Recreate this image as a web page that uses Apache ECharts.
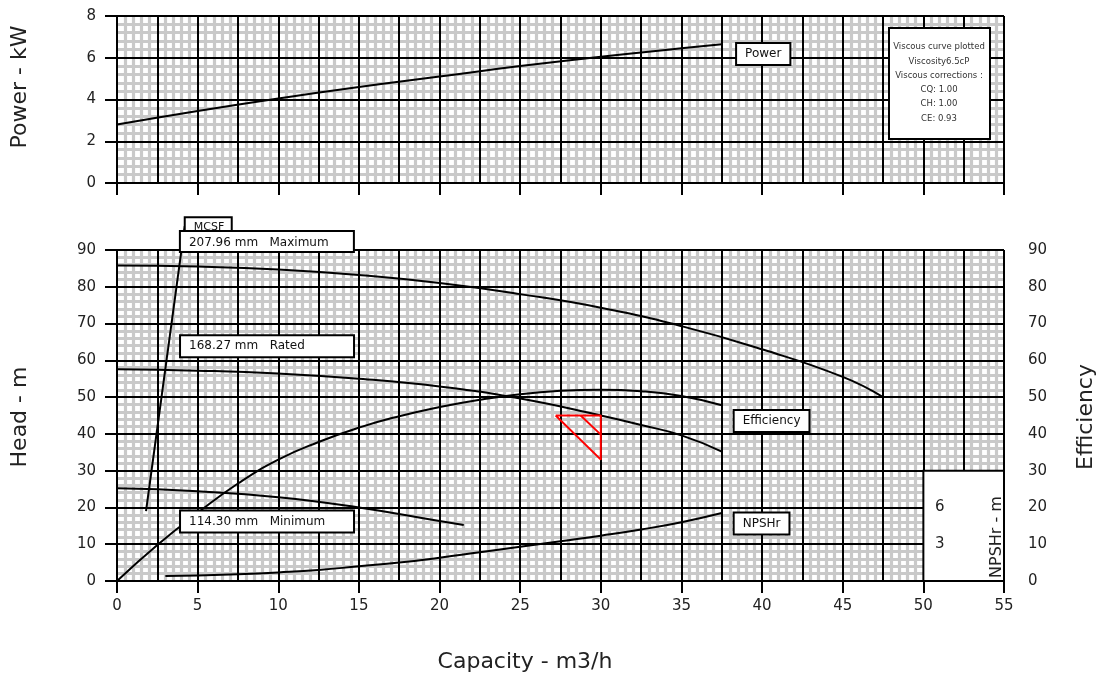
<!DOCTYPE html>
<html>
<head>
<meta charset="utf-8">
<title>Pump performance curves</title>
<script src="https://cdn.jsdelivr.net/npm/echarts@6/dist/echarts.min.js"></script>
<style>
  html, body { margin: 0; padding: 0; background: #fff; }
  #chart { width: 1102px; height: 677px; }
</style>
</head>
<body>
<div id="chart"></div>
<script>
// ---- Curve data (capacity in m3/h) ----
const powerQ   = [0, 5, 10, 15, 20, 25, 30, 35, 37.5];
const powerKW  = [2.8, 3.45, 4.05, 4.6, 5.1, 5.6, 6.05, 6.45, 6.65];

const maxQ     = [0, 5, 10, 15, 20, 25, 30, 35, 40, 45, 47.5];
const maxHead  = [85.8, 85.5, 84.7, 83.2, 81.0, 78.0, 74.3, 69.3, 63.0, 55.5, 50.0];

const ratedQ    = [0, 5, 10, 15, 20, 25, 30, 32.5, 35, 37.5];
const ratedHead = [57.6, 57.2, 56.4, 55.0, 52.9, 49.6, 45.0, 42.4, 39.6, 35.2];

const minQ     = [0, 5, 10, 15, 20, 21.5];
const minHead  = [25.2, 24.4, 22.8, 20.0, 16.3, 15.2];

const effQ     = [0, 2.5, 5, 7.5, 10, 12.5, 15, 17.5, 20, 22.5, 25, 27.5, 30, 32.5, 35, 37.5];
const effPct   = [0, 9.8, 18.5, 26.5, 33, 37.8, 41.7, 44.8, 47.3, 49.3, 50.8, 51.7, 52.0, 51.6, 50.3, 47.8];

const npshQ    = [3, 5, 7.5, 10, 12.5, 15, 17.5, 20, 22.5, 25, 27.5, 30, 32.5, 35, 37.5];
const npshM    = [0.4, 0.45, 0.55, 0.7, 0.9, 1.2, 1.5, 1.9, 2.35, 2.8, 3.25, 3.7, 4.2, 4.8, 5.55];

// minimum continuous stable flow line
const mcsfQ    = [1.8, 4.2];
const mcsfHead = [19, 96.5];

// rated duty point tolerance marker
const tolQ     = [27.2, 30, 30, 27.2];
const tolHead  = [45, 45, 33, 45];
const tolInnerQ    = [28.75, 30];
const tolInnerHead = [45, 39.8];

// curve labels
const impellerLabels = ['207.96 mm   Maximum', '168.27 mm   Rated', '114.30 mm   Minimum'];
const viscousLines = ['Viscous curve plotted', 'Viscosity6.5cP', 'Viscous corrections :', 'CQ: 1.00', 'CH: 1.00', 'CE: 0.93'];
const npshTickLabels = [3, 6];

const zip = (xs, ys) => xs.map((x, i) => [x, ys[i]]);

const FONT = 'DejaVu Sans';
const BLACK = '#000';
const MINOR = '#c9c9c9';
const TEXT = '#222';

function boxLabel(coord, text, width) {
  return {
    coord: coord,
    symbol: 'rect',
    symbolSize: 0,
    label: {
      show: true, position: 'right', distance: 0,
      formatter: text, color: '#111', fontFamily: FONT, fontSize: 12, lineHeight: 14,
      backgroundColor: '#fff', borderColor: BLACK, borderWidth: 2,
      padding: [3, 8, 3, 8], width: width
    }
  };
}

const hidden = { show: false };

// fine grey mesh
function minorAxis(gridIndex, min, max, interval) {
  return {
    gridIndex: gridIndex, type: 'value', min: min, max: max, interval: interval, z: 0,
    axisLine: hidden, axisTick: hidden, axisLabel: hidden, splitLine: hidden,
    minorTick: { show: false, splitNumber: 5 },
    minorSplitLine: { show: true, lineStyle: { color: MINOR, width: 3.2 } }
  };
}
// black major lines
function majorXAxis(gridIndex) {
  return {
    gridIndex: gridIndex, type: 'value', min: 0, max: 55, interval: 2.5, position: 'bottom', z: 1,
    axisLine: { show: true, lineStyle: { color: BLACK, width: 2 } },
    axisTick: hidden, axisLabel: hidden,
    splitLine: { show: true, lineStyle: { color: BLACK, width: 2 } }
  };
}
function tickXAxis(gridIndex, showLabels) {
  return {
    gridIndex: gridIndex, type: 'value', min: 0, max: 55, interval: 5, position: 'bottom', z: 1,
    axisLine: hidden,
    axisTick: { show: true, length: 12, lineStyle: { color: BLACK, width: 2 } },
    axisLabel: { show: showLabels, margin: 18, color: TEXT, fontFamily: FONT, fontSize: 15 },
    splitLine: hidden
  };
}
function valueYAxis(gridIndex, max, interval, position, margin, split) {
  return {
    gridIndex: gridIndex, type: 'value', min: 0, max: max, interval: interval, position: position, z: 1,
    axisLine: { show: true, lineStyle: { color: BLACK, width: 2 } },
    axisTick: { show: true, length: 12, lineStyle: { color: BLACK, width: 2 } },
    axisLabel: { margin: margin, color: TEXT, fontFamily: FONT, fontSize: 15 },
    splitLine: { show: split, lineStyle: { color: BLACK, width: 2 } }
  };
}

const lineStyle = { color: BLACK, width: 2 };

function curve(name, xi, yi, data, labelItem, extra) {
  return Object.assign({
    name: name, type: 'line', xAxisIndex: xi, yAxisIndex: yi,
    data: data, smooth: true, symbol: 'none', lineStyle: lineStyle, z: 3,
    markPoint: labelItem ? { z: 7, data: [labelItem] } : undefined
  }, extra || {});
}

const option = {
  animation: false,
  backgroundColor: '#fff',
  grid: [
    { left: 117, right: 98, top: 16, height: 167, containLabel: false, outerBoundsMode: 'none' },
    { left: 117, right: 98, top: 250, height: 331, containLabel: false, outerBoundsMode: 'none' }
  ],
  xAxis: [
    minorAxis(0, 0, 55, 2.5), majorXAxis(0), tickXAxis(0, false),
    minorAxis(1, 0, 55, 2.5), majorXAxis(1), tickXAxis(1, true)
  ],
  yAxis: [
    Object.assign(minorAxis(0, 0, 8, 2), { position: 'left' }),
    valueYAxis(0, 8, 2, 'left', 21, true),
    Object.assign(minorAxis(1, 0, 90, 10), { position: 'left' }),
    valueYAxis(1, 90, 10, 'left', 21, true),
    valueYAxis(1, 90, 10, 'right', 24, false),
    {
      gridIndex: 1, type: 'value', min: 0, max: 27, interval: 3, position: 'right', offset: -80, z: 10,
      axisLine: hidden, axisTick: hidden, splitLine: hidden,
      axisLabel: {
        margin: 11, color: TEXT, fontFamily: FONT, fontSize: 15,
        formatter: v => (npshTickLabels.indexOf(v) >= 0 ? String(v) : '')
      }
    }
  ],
  series: [
    curve('Power', 1, 1, zip(powerQ, powerKW), boxLabel([38.45, 6.18], 'Power', null)),
    curve('MCSF', 4, 3, zip(mcsfQ, mcsfHead), null, { smooth: false, clip: false }),
    curve('Maximum', 4, 3, zip(maxQ, maxHead), null),
    curve('Rated', 4, 3, zip(ratedQ, ratedHead), boxLabel([3.97, 63.8], impellerLabels[1], 156)),
    curve('Minimum', 4, 3, zip(minQ, minHead), boxLabel([3.97, 16.2], impellerLabels[2], 156)),
    curve('Efficiency', 4, 4, zip(effQ, effPct), boxLabel([38.3, 43.5], 'Efficiency', null)),
    curve('NPSHr', 4, 5, zip(npshQ, npshM), boxLabel([38.3, 4.69], 'NPSHr', null), {
      markArea: {
        silent: true, z: 2,
        itemStyle: { color: '#fff', borderColor: BLACK, borderWidth: 2 },
        data: [[{ xAxis: 50, yAxis: 0 }, { xAxis: 55, yAxis: 9 }]]
      }
    }),
    {
      name: 'Tolerance', type: 'line', xAxisIndex: 4, yAxisIndex: 3,
      data: zip(tolQ, tolHead), symbol: 'none', lineStyle: { color: '#ff0000', width: 2 }, z: 4
    },
    {
      name: 'ToleranceInner', type: 'line', xAxisIndex: 4, yAxisIndex: 3,
      data: zip(tolInnerQ, tolInnerHead), symbol: 'none', lineStyle: { color: '#ff0000', width: 2 }, z: 4
    }
  ]
};

const chart = echarts.init(document.getElementById('chart'), null, { renderer: 'canvas' });
chart.setOption(option);

// Boxed labels that sit above the head axis range, placed through the axis scales
const toHeadPx = c => chart.convertToPixel({ xAxisIndex: 4, yAxisIndex: 3 }, c);

function boxAt(pt, text, w, h, fontSize, z) {
  return [
    { type: 'rect', z: z, shape: { x: pt[0], y: pt[1] - h / 2, width: w, height: h },
      style: { fill: '#fff', stroke: BLACK, lineWidth: 2 } },
    { type: 'text', z: z, x: pt[0] + 9, y: pt[1] + 1,
      style: { text: text, font: fontSize + 'px ' + FONT, fill: '#111', align: 'left', verticalAlign: 'middle' } }
  ];
}

const graphics = []
  .concat(boxAt(toHeadPx([4.2, 96.6]), 'MCSF', 47, 17, 11, 30))
  .concat(boxAt(toHeadPx([3.9, 92.3]), impellerLabels[0], 174, 21, 12, 31));

// viscosity note
const noteX = 889, noteY = 28;
graphics.push({ type: 'rect', z: 40, shape: { x: noteX, y: noteY, width: 101, height: 111 },
  style: { fill: '#fff', stroke: BLACK, lineWidth: 2 } });
viscousLines.forEach((t, i) => graphics.push({
  type: 'text', z: 41, x: noteX + 50, y: noteY + 19 + i * 14.3,
  style: { text: t, font: '8.5px ' + FONT, fill: '#333', align: 'center', verticalAlign: 'middle' }
}));

// axis titles
function title(text, x, y, rot, size) {
  return { type: 'text', z: 40, x: x, y: y, rotation: rot,
    style: { text: text, font: size + 'px ' + FONT, fill: TEXT, align: 'center', verticalAlign: 'middle' } };
}
graphics.push(title('Power - kW', 20, 87, Math.PI / 2, 22));
graphics.push(title('Head - m', 20, 417, Math.PI / 2, 22));
graphics.push(title('Efficiency', 1086, 417, Math.PI / 2, 22));
graphics.push(title('Capacity - m3/h', 525, 662, 0, 22));
graphics.push(title('NPSHr - m', 997, 537, Math.PI / 2, 16));

chart.setOption({ graphic: graphics });
</script>
</body>
</html>
